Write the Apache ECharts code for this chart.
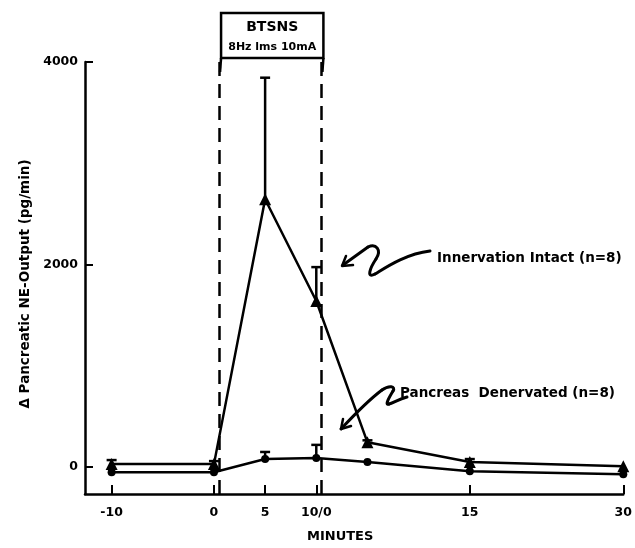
<!DOCTYPE html>
<html><head><meta charset="utf-8">
<script src="https://cdn.jsdelivr.net/npm/echarts@6/dist/echarts.min.js"></script>
<style>html,body{margin:0;padding:0;background:#fff}#c{width:635px;height:548px}</style>
</head><body><div id="c"></div>
<script>
// time positions (continuous minutes; 10/0 = 10, later "15" = 25, "30" = 40)
const times = [-10, 0, 5, 10, 15, 25, 40];
const tickValues = [-10, 0, 5, 10, 25, 40];
const tickLabels = ['-10', '0', '5', '10/0', '15', '30'];
const yTicks = [0, 2000, 4000];
const yTickLabels = ['0', '2000', '4000'];
const intact = [30, 30, 2645, 1640, 245, 50, 10];
const intactTop = [70, 60, 3845, 1975, 265, 80, 25];
const denerv = [-50, -50, 80, 90, 50, -40, -70];
const denervTop = [-50, -50, 150, 220, 50, -40, -70];
const stimStart = 0.5, stimEnd = 10.5;

const FONT = 'DejaVu Sans';
const chart = echarts.init(document.getElementById('c'), null, {renderer: 'canvas'});

function errSeries(vals, tops) {
  return {
    type: 'custom',
    data: times.map((t, i) => [t, vals[i], tops[i]]),
    renderItem: function (params, api) {
      const p0 = api.coord([api.value(0), api.value(1)]);
      const p1 = api.coord([api.value(0), api.value(2)]);
      if (Math.abs(p0[1] - p1[1]) < 2) return null;
      return {
        type: 'group',
        children: [
          {type: 'line', shape: {x1: p0[0], y1: p0[1], x2: p1[0], y2: p1[1]}, style: {stroke: '#000', lineWidth: 2.5}},
          {type: 'line', shape: {x1: p1[0] - 5, y1: p1[1], x2: p1[0] + 5, y2: p1[1]}, style: {stroke: '#000', lineWidth: 2.5}}
        ]
      };
    },
    z: 3
  };
}

const option = {
  animation: false,
  backgroundColor: '#fff',
  grid: {left: 85, right: 8, top: 62, bottom: 52},
  xAxis: {
    type: 'value', min: -12.6, max: 40,
    axisLine: {show: true, onZero: false, lineStyle: {color: '#000', width: 2.5}},
    axisTick: {show: true, inside: true, length: 9, customValues: tickValues, lineStyle: {color: '#000', width: 2}},
    axisLabel: {customValues: tickValues, color: '#000', fontFamily: FONT, fontWeight: 'bold', fontSize: 12.5, margin: 12,
      formatter: function (v) { const i = tickValues.indexOf(v); return i >= 0 ? tickLabels[i] : ''; }},
    splitLine: {show: false},
    name: 'MINUTES', nameLocation: 'middle', nameGap: 36,
    nameTextStyle: {color: '#000', fontFamily: FONT, fontWeight: 'bold', fontSize: 13, padding: [0, 28, 0, 0]}
  },
  yAxis: {
    type: 'value', min: -265, max: 4000,
    axisLine: {show: true, onZero: false, lineStyle: {color: '#000', width: 2.5}},
    axisTick: {show: true, inside: true, length: 8, customValues: yTicks, lineStyle: {color: '#000', width: 2}},
    axisLabel: {customValues: yTicks, color: '#000', fontFamily: FONT, fontWeight: 'bold', fontSize: 12.5, margin: 7,
      formatter: function (v) { const i = yTicks.indexOf(v); return i >= 0 ? yTickLabels[i] : ''; }},
    splitLine: {show: false},
    name: '\u0394 Pancreatic NE-Output (pg/min)', nameLocation: 'middle', nameGap: 44, nameRotate: 90,
    nameTextStyle: {color: '#000', fontFamily: FONT, fontWeight: 'bold', fontSize: 13.5, padding: [0, 12, 0, 0]}
  },
  series: [
    {
      name: 'Innervation Intact (n=8)', type: 'line',
      data: times.map((t, i) => [t, intact[i]]),
      symbol: 'triangle', symbolSize: 12, itemStyle: {color: '#000'},
      lineStyle: {color: '#000', width: 2.5}, z: 4,
      markLine: {
        silent: true, symbol: 'none', label: {show: false},
        lineStyle: {color: '#000', width: 2.5, type: [14, 8]},
        data: [{xAxis: stimStart}, {xAxis: stimEnd}]
      }
    },
    {
      name: 'Pancreas Denervated (n=8)', type: 'line',
      data: times.map((t, i) => [t, denerv[i]]),
      symbol: 'circle', symbolSize: 8, itemStyle: {color: '#000'},
      lineStyle: {color: '#000', width: 2.5}, z: 4
    },
    errSeries(intact, intactTop),
    errSeries(denerv, denervTop)
  ]
};
chart.setOption(option);

const xa = chart.convertToPixel({gridIndex: 0}, [stimStart, 0])[0];
const xb = chart.convertToPixel({gridIndex: 0}, [stimEnd, 0])[0];
const txt = (x, y, s, size, align) => ({type: 'text', x: x, y: y,
  style: {text: s, fill: '#000', font: 'bold ' + size + 'px "' + FONT + '"', align: align || 'left', verticalAlign: 'middle'}});
const bz = (a) => ({type: 'bezierCurve', shape: {x1: a[0], y1: a[1], cpx1: a[2], cpy1: a[3], cpx2: a[4], cpy2: a[5], x2: a[6], y2: a[7]},
  style: {fill: 'none', stroke: '#000', lineWidth: 3, lineCap: 'round'}});
const pl = (pts, w) => ({type: 'polyline', shape: {points: pts}, style: {fill: 'none', stroke: '#000', lineWidth: w || 3, lineCap: 'round', lineJoin: 'round'}});
chart.setOption({
  graphic: [
    {type: 'rect', shape: {x: xa + 2, y: 13, width: xb - xa, height: 45}, style: {fill: '#fff', stroke: '#000', lineWidth: 2.5}},
    {type: 'line', shape: {x1: xa + 2, y1: 58, x2: xa + 1, y2: 72}, style: {stroke: '#000', lineWidth: 2.5}},
    {type: 'line', shape: {x1: xb + 2, y1: 58, x2: xb + 1, y2: 72}, style: {stroke: '#000', lineWidth: 2.5}},
    txt((xa + xb) / 2 + 2, 27, 'BTSNS', 14, 'center'),
    txt((xa + xb) / 2 + 2, 47, '8Hz lms 10mA', 11, 'center'),
    txt(437, 258, 'Innervation Intact (n=8)', 13.5),
    txt(400, 393, 'Pancreas  Denervated (n=8)', 13.5),
    bz([430, 251, 405, 254, 385, 268, 375, 274]),
    bz([375, 274, 366, 279, 370, 268, 376, 259]),
    bz([376, 259, 382, 250, 376, 243, 368, 247]),
    pl([[368, 247], [343, 265]]),
    pl([[353, 265], [342, 266], [346, 256]], 2.5),
    bz([407, 397, 399, 399, 393, 403, 389, 404]),
    bz([389, 404, 384, 406, 390, 396, 393, 391]),
    bz([393, 391, 396, 386, 389, 385, 382, 390]),
    bz([382, 390, 370, 399, 355, 414, 341, 429]),
    pl([[351, 426], [341, 429], [343, 419]], 2.5)
  ]
});
</script></body></html>
